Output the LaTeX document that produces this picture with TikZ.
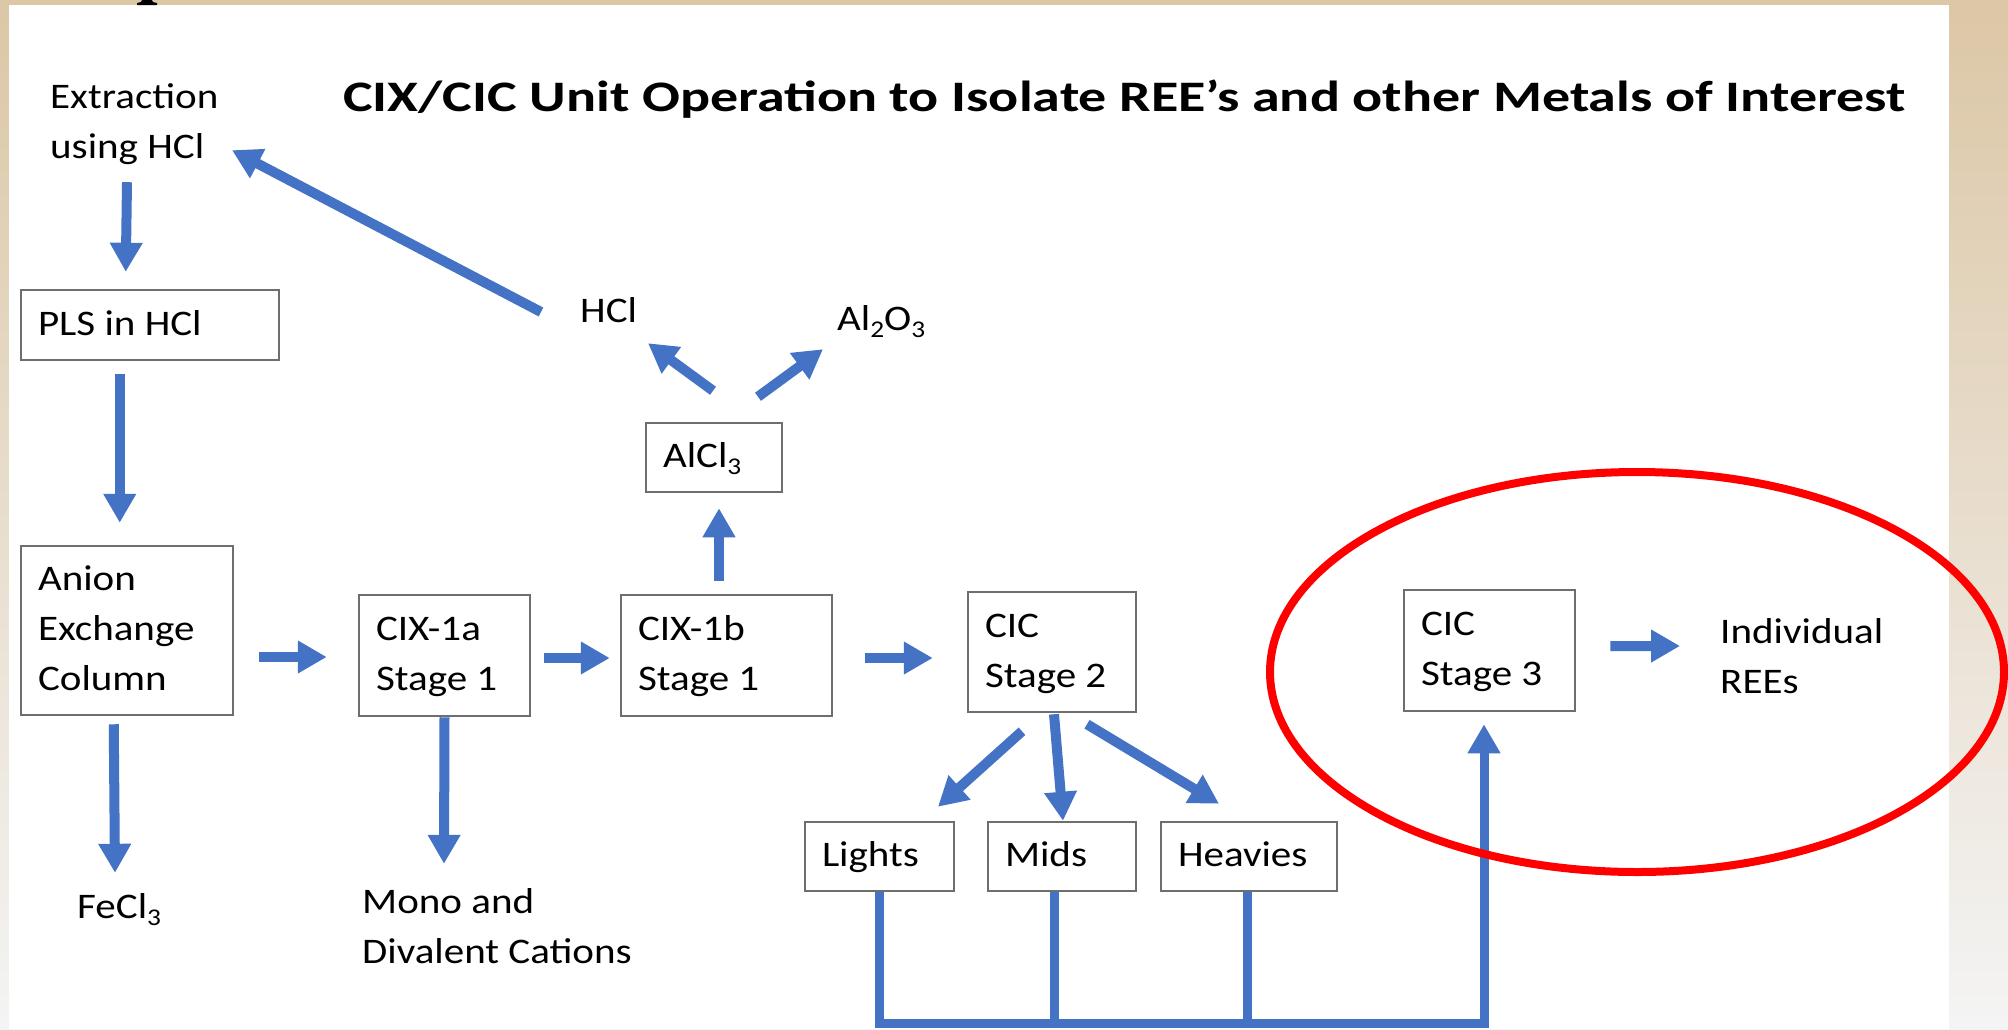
\documentclass[tikz,border=0pt]{standalone}
\usepackage{graphicx}
\usepackage{fontspec}
\setmainfont{Carlito}[FakeStretch=1.14]
\usetikzlibrary{arrows.meta,calc}
\definecolor{arrowblue}{HTML}{4472C4}
\definecolor{tanc}{RGB}{220,199,166}
\definecolor{bgmid}{RGB}{237,232,224}
\definecolor{bgbot}{RGB}{244,244,244}
\definecolor{boxline}{HTML}{6E6E6E}
\definecolor{ovalred}{HTML}{FF0000}
\newcommand\sbs[1]{\raisebox{-7pt}{\fontsize{24}{24}\selectfont #1}}
\newcommand\lbl[1]{\begin{tabular}[t]{@{}l@{}}#1\end{tabular}}
\newcommand\bxt[2]{\makebox[#1][l]{\lbl{#2}}}
\begin{document}
\begin{tikzpicture}[x=1pt,y=-1pt,
  txt/.style={inner sep=0pt, anchor=base west, font=\fontsize{36}{50}\selectfont},
  box/.style={draw=boxline, line width=2.5pt, fill=white, inner xsep=17pt, inner ysep=0pt, font=\fontsize{36}{50}\selectfont},
  arr/.style={draw=arrowblue, line width=10pt, -{Triangle[width=31pt,length=29pt]}},
  busline/.style={draw=arrowblue, line width=9pt},
]
\useasboundingbox (0,0) rectangle (2008,1029);
% background
\shade[top color=tanc, middle color=bgmid, bottom color=bgbot] (0,0) rectangle (2008,1029);
\fill[white] (9,5) rectangle (1949,1029);
\fill[black] (142,0) -- (152,0) -- (153,2) -- (157,3) -- (157,5) -- (137,5) -- (137,3) -- (141,2) -- cycle;

% title
\node[inner sep=0pt, anchor=base west, font=\bfseries\fontsize{43.5}{50}\selectfont] (title) at (343,111)
  {\scalebox{1.13}[1]{CIX/CIC Unit Operation to Isolate REE’s and other Metals of Interest}};

% boxes
\node[box, minimum width=258pt, minimum height=70pt] (pls) at (150,325) {\bxt{224pt}{PLS in HCl}};
\node[box, minimum width=212pt, minimum height=169pt] (anion) at (127,630.5) {\bxt{178pt}{Anion\\Exchange\\Column}};
\node[box, minimum width=171pt, minimum height=121pt] (cix1a) at (444.5,655.5) {\bxt{137pt}{CIX-1a\\Stage 1}};
\node[box, minimum width=211pt, minimum height=121pt] (cix1b) at (726.5,655.5) {\bxt{177pt}{CIX-1b\\Stage 1}};
\node[box, minimum width=168pt, minimum height=120pt] (st2) at (1052,652) {\bxt{134pt}{CIC\\Stage 2}};
\node[box, minimum width=171pt, minimum height=121pt] (st3) at (1489.5,650.5) {\bxt{137pt}{CIC\\Stage 3}};
\node[box, minimum width=136pt, minimum height=69pt] (alcl3) at (714,457.5) {\bxt{102pt}{AlCl\sbs{3}}};
\node[box, minimum width=149pt, minimum height=69pt] (lights) at (879.5,856.5) {\bxt{115pt}{Lights}};
\node[box, minimum width=148pt, minimum height=69pt] (mids) at (1062,856.5) {\bxt{114pt}{Mids}};
\node[box, minimum width=176pt, minimum height=69pt] (heavies) at (1249,856.5) {\bxt{142pt}{Heavies}};

% free labels
\node[txt] (ext) at (50,108) {\lbl{Extraction\\using HCl}};
\node[txt] (hcl) at (580,322) {\lbl{HCl}};
\node[txt] (al2o3) at (837,330) {\lbl{Al\sbs{2}O\sbs{3}}};
\node[txt] (fecl3) at (77,918) {\lbl{FeCl\sbs{3}}};
\node[txt] (mono) at (362,913) {\lbl{Mono and\\Divalent Cations}};
\node[txt] (indiv) at (1720,643) {\lbl{Individual\\REEs}};

% arrows
\draw[arr] ($(ext.south west)+(77,9)$) -- ($(pls.north west)+(106,-17)$);
\draw[arr] ($(pls.south west)+(100,13)$) -- ($(anion.north west)+(100,-22)$);
\draw[arr] ($(anion.south west)+(94,8)$) -- ($(fecl3.north west)+(38,-10)$);
\draw[arr] ($(anion.east)+(25,26.5)$) -- ($(cix1a.west)+(-31,1.5)$);
\draw[arr] ($(cix1a.east)+(13,2.5)$) -- ($(cix1b.west)+(-10,2.5)$);
\draw[arr] ($(cix1b.east)+(32,2.5)$) -- ($(st2.west)+(-34,6)$);
\draw[arr] (cix1a.south) -- ($(mono.north west)+(82,-14)$);
\draw[arr] ($(cix1b.north)+(-7.5,-13)$) -- ($(alcl3.south)+(5,15)$);
\draw[arr] ($(alcl3.north)+(-1,-31)$) -- ($(hcl.south west)+(68,6)$);
\draw[arr] ($(alcl3.north)+(44,-25)$) -- ($(al2o3.south west)+(-14,4)$);
\draw[arr] ($(hcl.west)+(-39,0)$) -- ($(ext.south west)+(182,-23)$);
\draw[arr] ($(st2.south)+(-30,18)$) -- ($(lights.north)+(58.5,-14)$);
\draw[arr] ($(st2.south)+(2,1)$) -- ($(mids.north)+(1,0)$);
\draw[arr] ($(st2.south)+(35,11)$) -- ($(heavies.north)+(-30,-17)$);
\draw[arr] ($(st3.east)+(34,-4.5)$) -- ($(indiv.west)+(-40,-12)$);

% collection bus
\draw[busline] ($(mids.south)+(-8,0)$) -- ++(0,135);
\draw[busline] ($(heavies.south)+(-2,0)$) -- ++(0,135);
\draw[arr, line width=9pt] ($(lights.south)+(-0.5,0)$) -- ($(lights.south)+(-0.5,131)$) -| ($(st3.south)+(-5.5,12)$);

% red highlight
\draw[ovalred, line width=8pt] (1637,672) ellipse [x radius=367pt, y radius=200pt];
\end{tikzpicture}
\end{document}
